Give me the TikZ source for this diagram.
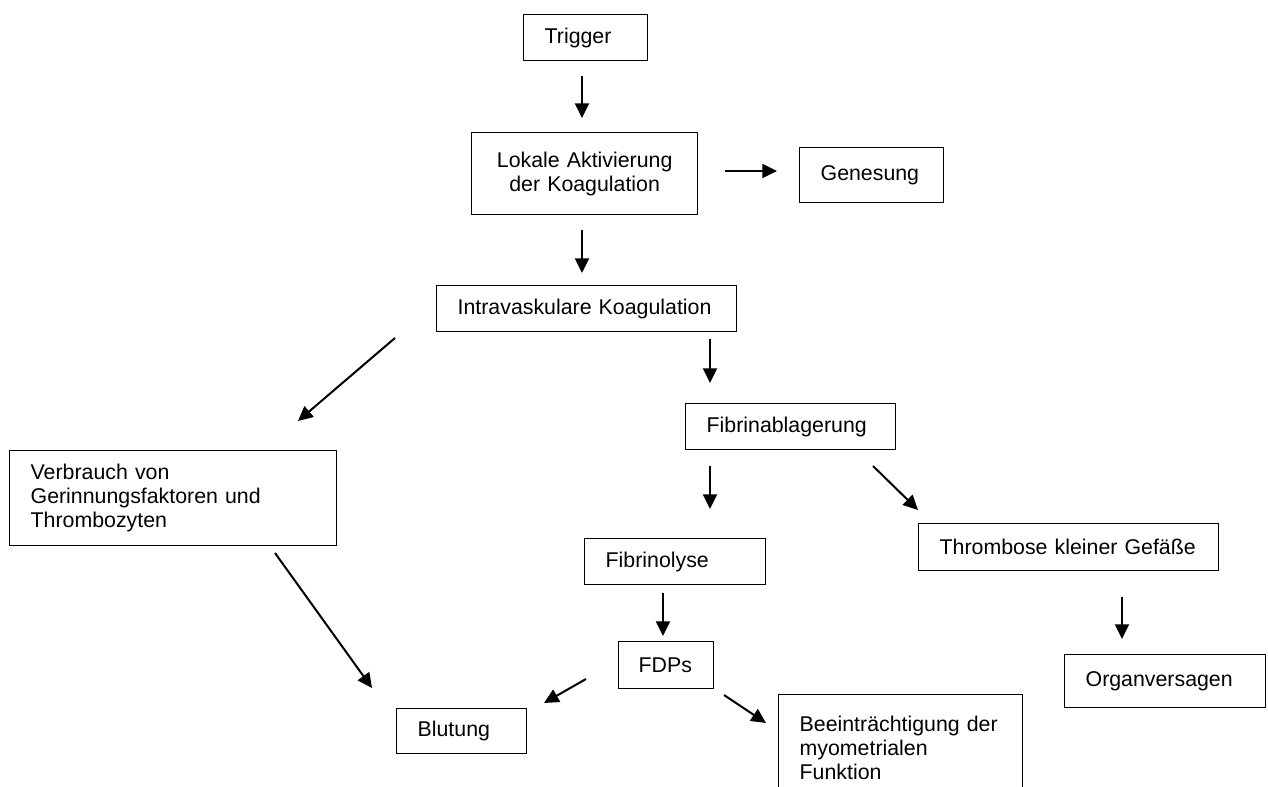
\documentclass[tikz,border=0pt]{standalone}
\usepackage{fontspec}
\setmainfont{Liberation Sans}
\usetikzlibrary{arrows.meta}

\tikzset{every picture/.style={line width=0.75pt}}
\tikzset{
  box/.style={draw, line width=1pt, anchor=north west, inner xsep=15.75pt, inner ysep=0pt, align=left, font=\fontsize{16}{18}\selectfont},
  arr/.style={line width=1.5pt, -{Triangle[length=11pt,width=10.5pt]}}
}

\begin{document}
\begin{tikzpicture}[x=0.75pt,y=0.75pt,yscale=-1,xscale=1]
\useasboundingbox (0,0) rectangle (1268,787);
\clip (0,0) rectangle (1268,787);

%Shape: Rectangle
\node[box, text width=61.5pt, minimum height=34.5pt] (trigger) at (523,14) {Trigger};
%Shape: Rectangle
\node[box, align=center, text width=138pt, minimum height=61.5pt] (lokal) at (471,132) {Lokale Aktivierung\\der Koagulation};
%Shape: Rectangle
\node[box, text width=76.5pt, minimum height=41.25pt] (genesung) at (799,147) {Genesung};
%Shape: Rectangle
\node[box, text width=193.5pt, minimum height=34.5pt] (intra) at (436,285) {Intravaskulare Koagulation};
%Shape: Rectangle
\node[box, text width=126pt, minimum height=34.5pt] (fibablag) at (685,403) {Fibrinablagerung};
%Shape: Rectangle
\node[box, text width=213.75pt, minimum height=71.25pt] (verbrauch) at (9,450) {Verbrauch von\\Gerinnungsfaktoren und\\Thrombozyten};
%Shape: Rectangle
\node[box, text width=104.25pt, minimum height=34.5pt] (fibrinolyse) at (584,538) {Fibrinolyse};
%Shape: Rectangle
\node[box, text width=193.5pt, minimum height=35.25pt] (thrombose) at (918,523) {Thrombose kleiner Gefäße};
%Shape: Rectangle
\node[box, inner xsep=15pt, text width=41.25pt, minimum height=35.25pt] (fdps) at (618,641) {FDPs};
%Shape: Rectangle
\node[box, text width=119.25pt, minimum height=39.75pt] (organ) at (1064,654) {Organversagen};
%Shape: Rectangle
\node[box, text width=66pt, minimum height=33.75pt] (blutung) at (396,708) {Blutung};
%Shape: Rectangle
\node[box, inner ysep=15.75pt, text width=151.5pt] (beein) at (778,694) {Beeinträchtigung der\\myometrialen\\Funktion};

%Straight Lines
\coordinate (trigger out) at (582,76);
\coordinate (lokal in) at (582,118);
\draw[arr] (trigger out) -- (lokal in);
%Straight Lines
\coordinate (lokal right) at (725,171);
\coordinate (genesung in) at (777,171);
\draw[arr] (lokal right) -- (genesung in);
%Straight Lines
\coordinate (lokal out) at (582,230);
\coordinate (intra in) at (582,273);
\draw[arr] (lokal out) -- (intra in);
%Straight Lines
\coordinate (intra left) at (395,338);
\coordinate (verbrauch in) at (298,421);
\draw[arr] (intra left) -- (verbrauch in);
%Straight Lines
\coordinate (intra right) at (710,339);
\coordinate (fibablag in) at (710,383);
\draw[arr] (intra right) -- (fibablag in);
%Straight Lines
\coordinate (fibablag out) at (710,466);
\coordinate (fibrinolyse in) at (710,509);
\draw[arr] (fibablag out) -- (fibrinolyse in);
%Straight Lines
\coordinate (fibablag right) at (873,466);
\coordinate (thrombose in) at (918,510);
\draw[arr] (fibablag right) -- (thrombose in);
%Straight Lines
\coordinate (fibrinolyse out) at (663,593);
\coordinate (fdps in) at (663,636);
\draw[arr] (fibrinolyse out) -- (fdps in);
%Straight Lines
\coordinate (fdps left) at (586,679);
\coordinate (blutung right) at (544,703);
\draw[arr] (fdps left) -- (blutung right);
%Straight Lines
\coordinate (fdps right) at (724,695);
\coordinate (beein in) at (766,723);
\draw[arr] (fdps right) -- (beein in);
%Straight Lines
\coordinate (verbrauch out) at (275,553);
\coordinate (blutung in) at (372,688);
\draw[arr] (verbrauch out) -- (blutung in);
%Straight Lines
\coordinate (thrombose out) at (1122,597);
\coordinate (organ in) at (1122,639);
\draw[arr] (thrombose out) -- (organ in);

\end{tikzpicture}
\end{document}
